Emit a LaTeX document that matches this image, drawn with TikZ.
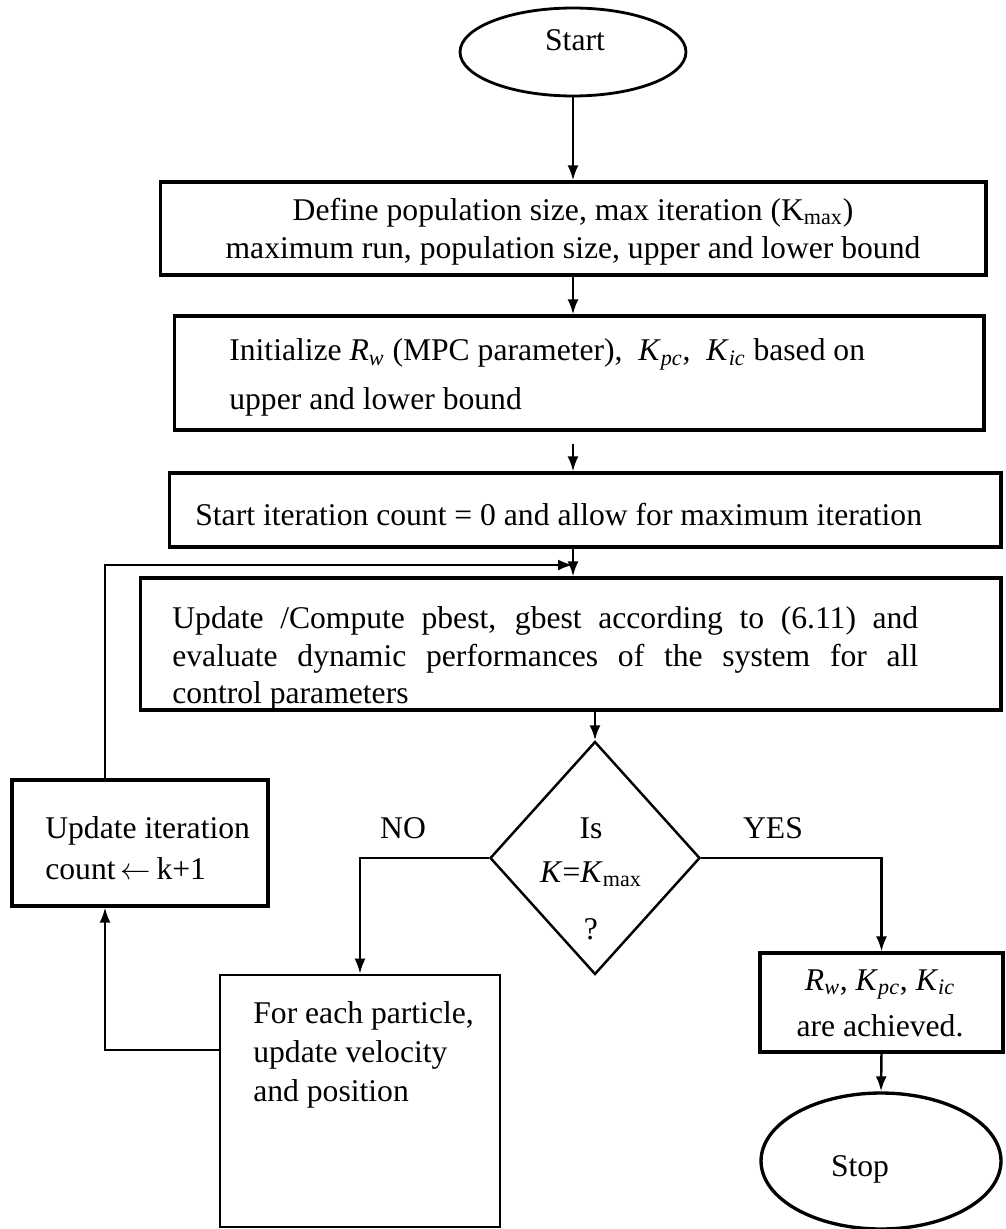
\documentclass[tikz,border=0pt]{standalone}
\usepackage{fontspec}
\setmainfont{Liberation Serif}
\usetikzlibrary{shapes, arrows.meta, calc}

\newcommand{\kvar}[2]{\textit{#1}\textsubscript{\textit{#2}}}

\begin{document}
\begin{tikzpicture}[x=0.02cm, y=-0.02cm,
  font=\fontsize{18}{21.5}\selectfont,
  box/.style={draw, rectangle, line width=1.8pt, inner sep=0pt},
  term/.style={draw, ellipse, line width=1.6pt, inner sep=0pt},
  txt/.style={inner sep=0pt},
  arr/.style={-{Latex[length=0.3cm, width=0.22cm]}, line width=1.4pt}]
\useasboundingbox (0,0) rectangle (1005,1229);

% terminals
\node[term, minimum width=4.52cm, minimum height=1.76cm] (start) at (573,52) {};
\node[txt] (starttxt) at (575,40) {Start};
\node[term, line width=1.9pt, minimum width=4.8cm, minimum height=2.72cm] (stop) at (881,1161) {};
\node[txt] (stoptxt) at (860,1169) {Stop};

% main column
\node[box, minimum width=16.52cm, minimum height=1.86cm] (def) at (573,228.5) {};
\node[txt, align=center] (deftxt) at (573,231.5)
  {Define population size, max iteration (K\textsubscript{max})\\
   maximum run, population size, upper and lower bound};

\node[box, minimum width=16.2cm, minimum height=2.28cm] (init) at (579,373) {};
\node[txt, anchor=west, align=left] (inittxt) at (229,377.5)
  {Initialize \kvar{R}{w} (MPC parameter), \ \kvar{K}{pc}, \ \kvar{K}{ic} based on\\[6.5pt]
   upper and lower bound};

\node[box, minimum width=16.64cm, minimum height=1.48cm] (iter) at (585,510) {};
\node[txt, anchor=west] (itertxt) at (195,515)
  {Start iteration count = 0 and allow for maximum iteration};

\node[box, minimum width=17.22cm, minimum height=2.64cm] (upd) at (570.5,644) {};
\node[txt, anchor=west, text width=14.92cm, align=justify] (updtxt) at (172,658.5)
  {Update /Compute pbest, gbest according to (6.11) and\linebreak
   evaluate dynamic performances of the system for all\linebreak
   control parameters};

% decision
\node[draw, diamond, line width=1.4pt, inner sep=0pt,
  minimum width=4.2cm, minimum height=4.66cm] (dec) at (595,858) {};
\node[txt, align=center] (dectxt) at (591,878.5)
  {Is\\[3.5pt] \textit{K}=\textit{K}\textsubscript{max}\\[11pt] ?};
\node[txt] (no) at (403,828) {NO};
\node[txt] (yes) at (773,828) {YES};

% loop side
\node[box, minimum width=5.12cm, minimum height=2.52cm] (cnt) at (140,843) {};
\node[txt, anchor=west, align=left] (cnttxt) at (45,848.5)
  {Update iteration\\[2pt] count\,$\leftarrow$\,k+1};

\node[box, line width=1.5pt, minimum width=5.6cm, minimum height=5.04cm] (part) at (360,1101) {};
\node[txt, anchor=west, align=left] (parttxt) at (253,1055)
  {For each particle,\\[0.5pt] update velocity\\[0.5pt] and position};

\node[box, minimum width=4.86cm, minimum height=1.98cm] (ach) at (881.5,1002.5) {};
\node[txt, align=center] (achtxt) at (880,1003.5)
  {\kvar{R}{w}, \kvar{K}{pc}, \kvar{K}{ic}\\[5pt] are achieved.};

% connectors
\coordinate (loop) at (105,565);
\coordinate (ret) at ($(part.north west)!0.3!(part.south west)$);

\draw[arr] (start) -- (start |- def.north);
\draw[arr] (def) -- (def |- init.north);
\draw[arr, shorten <=0.24cm] (def.south |- init.south) -- (def.south |- iter.north);
\draw[arr] (def.south |- iter.south) -- (def.south |- upd.north);
\draw[arr] (upd.south -| dec.north) -- (dec.north);
\draw[arr] (dec.west) -| (part.north);
\draw[arr] (dec.east) -| (ach.north);
\draw[arr] (ach.south) -- (stop.north);
\draw[arr] (ret) -| (cnt.south -| loop);
\draw[arr] (cnt.north -| loop) -- (loop) -- (loop -| def.south);
\end{tikzpicture}
\end{document}
